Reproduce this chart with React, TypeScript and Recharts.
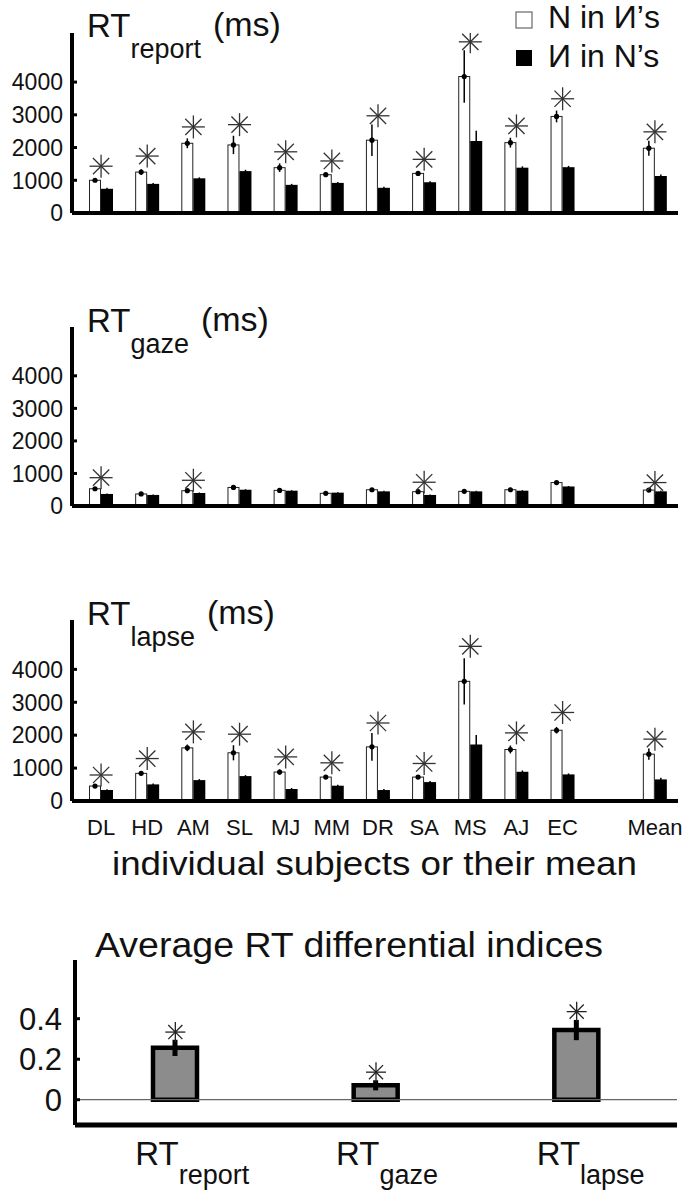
import React from 'react';
import { ComposedChart, Bar, XAxis, YAxis, Scatter, ErrorBar, ReferenceLine } from 'recharts';

const FONT = "'Liberation Sans', Arial, Helvetica, sans-serif";

// ---- categories ----
const subjects = ['DL', 'HD', 'AM', 'SL', 'MJ', 'MM', 'DR', 'SA', 'MS', 'AJ', 'EC', '', 'Mean'];
const rtTicks = [0, 1000, 2000, 3000, 4000];

// ---- RT report (ms) ----
const reportN = [1000, 1250, 2130, 2080, 1385, 1170, 2225, 1210, 4170, 2150, 2950, null, 1980];
const reportNErr = [40, 90, 150, 280, 130, 40, 480, 40, 800, 150, 180, null, 230];
const reportR = [740, 890, 1060, 1280, 860, 920, 770, 940, 2200, 1385, 1400, null, 1130];
const reportRErr = [30, 30, 30, 40, 30, 30, 30, 30, 310, 40, 40, null, 50];
const reportStar = [1430, 1740, 2630, 2700, 1870, 1590, 2970, 1640, 5230, 2660, 3490, null, 2480];

// ---- RT gaze (ms) ----
const gazeN = [530, 370, 470, 570, 480, 390, 500, 440, 450, 500, 720, null, 490];
const gazeNErr = [20, 15, 20, 20, 20, 15, 20, 20, 20, 20, 25, null, 20];
const gazeR = [370, 340, 400, 500, 470, 410, 450, 340, 450, 470, 600, null, 450];
const gazeRErr = [15, 15, 15, 15, 15, 15, 15, 15, 15, 15, 15, null, 15];
const gazeStar = [870, null, 790, null, null, null, null, 730, null, null, null, null, 720];

// ---- RT lapse (ms) ----
const lapseN = [455, 840, 1615, 1465, 880, 727, 1645, 727, 3636, 1565, 2150, null, 1424];
const lapseNErr = [40, 60, 100, 230, 80, 50, 420, 40, 700, 120, 100, null, 170];
const lapseR = [335, 505, 635, 757, 365, 465, 333, 575, 1717, 888, 808, null, 656];
const lapseRErr = [20, 30, 30, 30, 30, 30, 30, 30, 290, 40, 30, null, 50];
const lapseStar = [790, 1290, 2100, 2030, 1340, 1160, 2370, 1140, 4700, 2070, 2690, null, 1880];

// ---- Average RT differential indices ----
const indexCats = ['report', 'gaze', 'lapse'];
const indexVals = [0.256, 0.071, 0.344];
const indexErr = [0.04, 0.025, 0.05];
const indexStar = [0.334, 0.136, 0.435];
const indexTicks = [0, 0.2, 0.4];

const buildRows = (n: any[], nErr: any[], r: any[], rErr: any[], star: any[]) =>
  subjects.map((s, i) => ({ name: s, n: n[i], nErr: nErr[i], r: r[i], rErr: rErr[i], star: star[i] }));

const reportRows = buildRows(reportN, reportNErr, reportR, reportRErr, reportStar);
const gazeRows = buildRows(gazeN, gazeNErr, gazeR, gazeRErr, gazeStar);
const lapseRows = buildRows(lapseN, lapseNErr, lapseR, lapseRErr, lapseStar);
const indexRows = indexCats.map((c, i) => ({ name: c, v: indexVals[i], err: indexErr[i], star: indexStar[i] }));

const WhiteBar = (props: any) => {
  const { x, y, width, height } = props;
  if (height == null || isNaN(y) || isNaN(height)) return <g />;
  return (
    <g>
      <rect x={x + 0.5} y={y} width={width - 1} height={height} fill="#fff" stroke="#222" strokeWidth={1} />
      <circle cx={x + width / 2} cy={y} r={2.6} fill="#000" />
    </g>
  );
};

const makeStar = (r: number, color: string, sw: number) => (props: any) => {
  const { cx, cy, payload } = props;
  if (!payload || payload.star == null || isNaN(cy)) return <g />;
  const d = r * Math.SQRT1_2;
  return (
    <g stroke={color} strokeWidth={sw}>
      <line x1={cx - r} y1={cy} x2={cx + r} y2={cy} />
      <line x1={cx} y1={cy - r} x2={cx} y2={cy + r} />
      <line x1={cx - d} y1={cy - d} x2={cx + d} y2={cy + d} />
      <line x1={cx - d} y1={cy + d} x2={cx + d} y2={cy - d} />
    </g>
  );
};
const StarBig = makeStar(11.5, '#333', 1.3);
const StarSmall = makeStar(10, '#222', 1.3);

const YTick = (props: any) => {
  const { x, y, payload, fs, gap, label } = props;
  const txt = label ? label(payload.value) : String(payload.value);
  return (
    <g>
      <line x1={x} y1={y} x2={x + 5} y2={y} stroke="#000" strokeWidth={3} />
      <text x={x - gap} y={y} dy="0.36em" textAnchor="end" fontSize={fs} fontFamily={FONT} fill="#111">{txt}</text>
    </g>
  );
};

const CatTick = (props: any) => {
  const { x, y, payload } = props;
  if (!payload.value) return <g />;
  return (
    <text x={x} y={y + 34} textAnchor="middle" fontSize={22} fontFamily={FONT} fill="#111">{payload.value}</text>
  );
};

const IndexTick = (props: any) => {
  const { x, y, payload } = props;
  return (
    <text x={x - 40} y={y + 40} fontSize={33} fontFamily={FONT} fill="#111">
      RT<tspan fontSize={27} dy={19}>{payload.value}</tspan>
    </text>
  );
};

const W = 685;

function RTPanel({ top, plotTop, plotBottom, height, rows, showLabels }: any) {
  return (
    <div style={{ position: 'absolute', left: 0, top }}>
      <ComposedChart width={W} height={height} data={rows} margin={{ top: plotTop - top, right: 7, bottom: 0, left: 12 }} barGap={0}>
        <XAxis dataKey="name" height={top + height - plotBottom} interval={0} padding={{ left: 6, right: 0 }}
          axisLine={{ stroke: '#000', strokeWidth: 4 }} tickLine={false} tickSize={0} tickMargin={0}
          tick={showLabels ? <CatTick /> : false} />
        <YAxis width={60} domain={[0, 5500]} ticks={rtTicks} allowDataOverflow
          axisLine={{ stroke: '#000', strokeWidth: 4 }} tickLine={false} tickSize={0} tickMargin={0}
          tick={<YTick fs={23} gap={9} />} />
        <Bar dataKey="n" barSize={12} shape={<WhiteBar />} isAnimationActive={false}>
          <ErrorBar dataKey="nErr" width={0} stroke="#000" strokeWidth={1.5} direction="y" />
        </Bar>
        <Bar dataKey="r" barSize={12} fill="#000" isAnimationActive={false}>
          <ErrorBar dataKey="rErr" width={0} stroke="#000" strokeWidth={1.5} direction="y" />
        </Bar>
        <Scatter dataKey="star" shape={StarBig} isAnimationActive={false} />
      </ComposedChart>
    </div>
  );
}

function IndexPanel() {
  const top = 900, plotTop = 960, plotBottom = 1125, height = 294;
  return (
    <div style={{ position: 'absolute', left: 0, top }}>
      <ComposedChart width={W} height={height} data={indexRows} margin={{ top: plotTop - top, right: 8, bottom: 0, left: 12 }}>
        <XAxis dataKey="name" height={top + height - plotBottom} interval={0}
          axisLine={{ stroke: '#000', strokeWidth: 5 }} tickLine={false} tickSize={0} tickMargin={0}
          tick={<IndexTick />} />
        <YAxis width={63} domain={[-0.125, 0.69]} ticks={indexTicks} allowDataOverflow
          axisLine={{ stroke: '#000', strokeWidth: 4 }} tickLine={false} tickSize={0} tickMargin={0}
          tick={<YTick fs={31} gap={13} label={(v: number) => (v === 0 ? '0' : v.toFixed(1))} />} />
        <ReferenceLine y={0} stroke="#666" strokeWidth={1.3} />
        <Bar dataKey="v" barSize={44} fill="#8c8c8c" stroke="#000" strokeWidth={4.5} isAnimationActive={false}>
          <ErrorBar dataKey="err" width={0} stroke="#000" strokeWidth={5} direction="y" />
        </Bar>
        <Scatter dataKey="star" shape={StarSmall} isAnimationActive={false} />
      </ComposedChart>
    </div>
  );
}

function PanelTitle({ y, sub }: { y: number; sub: string }) {
  return (
    <text x={87} y={y} fontSize={33} fontFamily={FONT} fill="#111">
      RT<tspan fontSize={27} dy={21}>{sub}</tspan><tspan fontSize={34} dy={-22} dx={12}>(ms)</tspan>
    </text>
  );
}

export default function App() {
  return (
    <div style={{ position: 'absolute', left: 0, top: 0, width: W, height: 1194, background: '#fff', overflow: 'hidden' }}>
      <RTPanel top={0} plotTop={33} plotBottom={213} height={230} rows={reportRows} showLabels={false} />
      <RTPanel top={290} plotTop={327} plotBottom={506} height={230} rows={gazeRows} showLabels={false} />
      <RTPanel top={580} plotTop={620} plotBottom={801} height={300} rows={lapseRows} showLabels={true} />
      <IndexPanel />
      <svg width={W} height={1194} style={{ position: 'absolute', left: 0, top: 0, pointerEvents: 'none' }}>
        <PanelTitle y={37} sub="report" />
        <PanelTitle y={332} sub="gaze" />
        <PanelTitle y={625} sub="lapse" />
        <rect x={516} y={12} width={16} height={16} fill="#fff" stroke="#666" strokeWidth={1.2} />
        <text x={548} y={28} fontSize={32} fontFamily={FONT} fill="#111">N in И’s</text>
        <rect x={516} y={50} width={16} height={16} fill="#000" />
        <text x={548} y={67} fontSize={32} fontFamily={FONT} fill="#111">И in N’s</text>
        <text x={112} y={875} fontSize={34} fontFamily={FONT} fill="#111" textLength={525} lengthAdjust="spacingAndGlyphs">individual subjects or their mean</text>
        <text x={95} y={957} fontSize={35} fontFamily={FONT} fill="#111" textLength={508} lengthAdjust="spacingAndGlyphs">Average RT differential indices</text>
      </svg>
    </div>
  );
}
